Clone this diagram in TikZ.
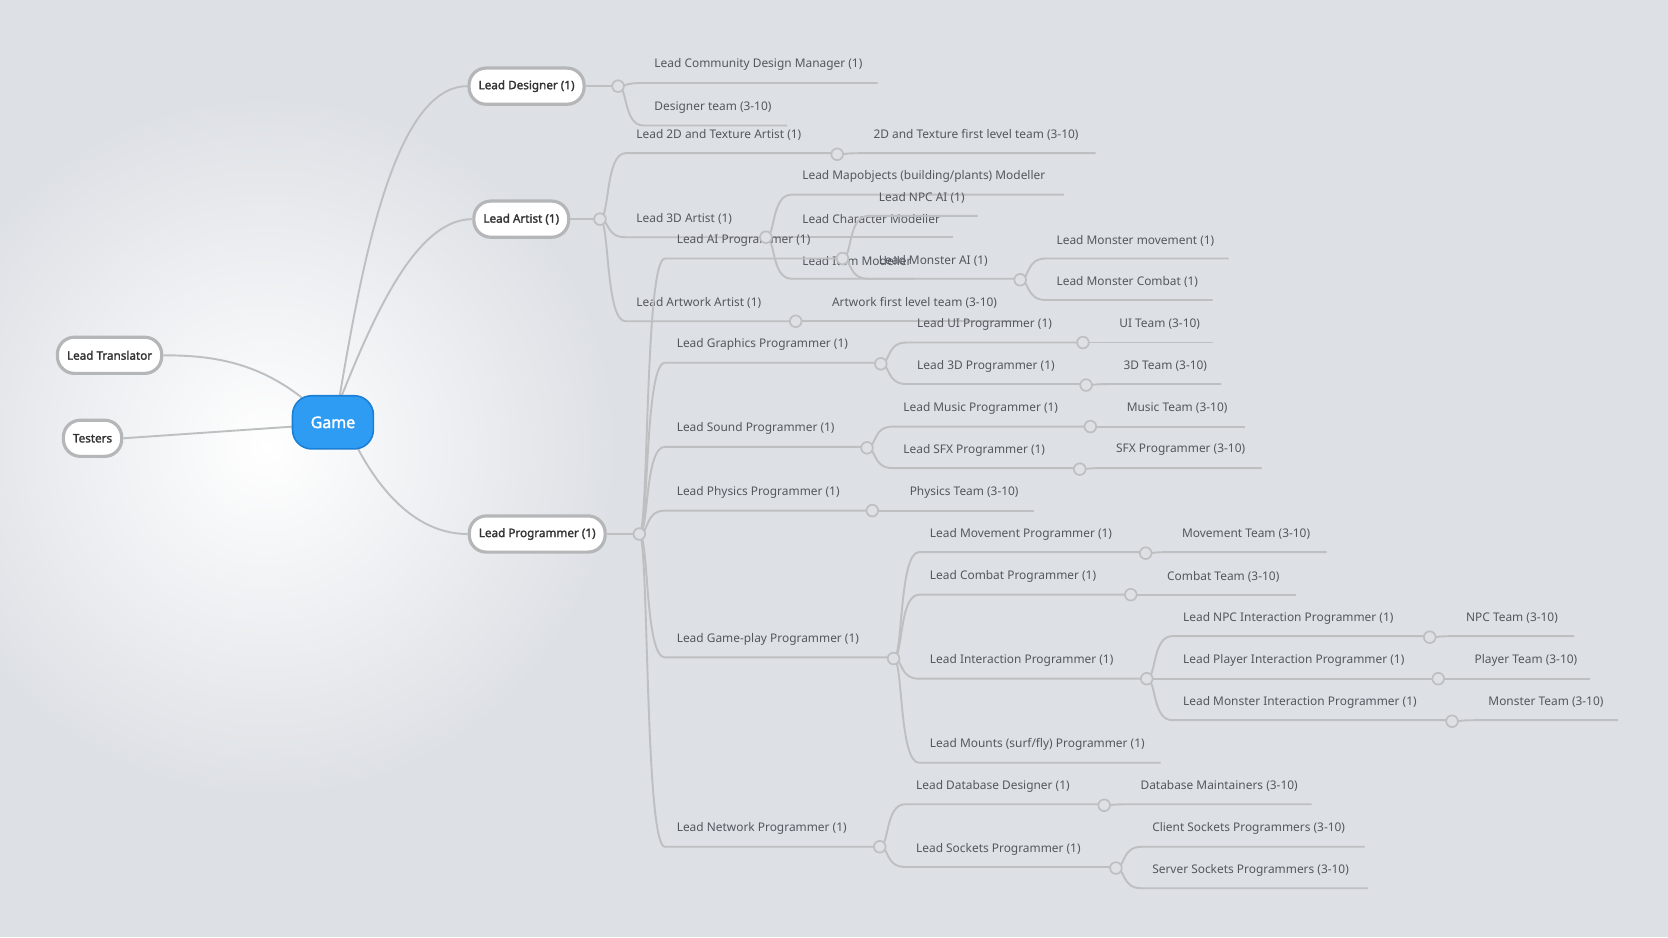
\documentclass[tikz,border=0pt]{standalone}
\usepackage{fontspec}
\setmainfont{Noto Sans}
\newfontfamily\bolds{Noto Sans}[FakeBold=1.8]
\usetikzlibrary{calc}
\definecolor{bg}{HTML}{DDE0E5}
\definecolor{ln}{HTML}{BEBFC1}
\definecolor{tx}{HTML}{54585E}
\definecolor{bx}{HTML}{B5B6B8}
\definecolor{gm}{HTML}{2F9CF4}
\definecolor{gmd}{HTML}{1C7FD6}
\tikzset{
 lnk/.style={draw=ln,line width=1.8pt},
 lbl/.style={anchor=west,inner sep=0pt,text=tx,font=\fontsize{11.2}{13}\selectfont},
 dotn/.style={circle,draw=ln,line width=1.6pt,fill=bg,minimum size=11pt,inner sep=0pt},
 boxn/.style={rounded corners=16pt,draw=bx,line width=3pt,fill=white,minimum height=34pt,inner xsep=9pt,text=black!80,font=\bolds\fontsize{11}{13}\selectfont},
}
% #1 parent coord, #2 text x, #3 text y, #4 end x, #5 text, #6 name
\newcommand\br[6]{%
 \draw[lnk] (#1) .. controls ($(#1)+(9,0)$) and ($(#1|-0,{#3+17})+(5,0)$) .. ($(#1|-0,{#3+17})+(24,0)$) -- (#4,{#3+17});
 \node[lbl] (#6) at (#2,#3) {#5};}
\begin{document}
\begin{tikzpicture}[x=1pt,y=-1pt]
\useasboundingbox (0,0) rectangle (1568,881);
\fill[bg] (0,0) rectangle (1568,881);
\shade[inner color=white,outer color=bg] (250,420) ellipse (330 and 330);
% circle coordinates
\foreach \n/\p in {cD/{581,81},cA/{564,206},c2D/{787,145},c3D/{720,223},cAw/{748,302},cP/{601,502},
 cAI/{792,243},cMA/{959,263},cG/{828,342},cUI/{1018,322},c3P/{1021,362},cS/{815,421},cMu/{1025,401},cSF/{1015,441},
 cPh/{820,480},cGp/{840,619},cMv/{1077,520},cCb/{1063,559},cIn/{1078,638},cNI/{1344,599},cPI/{1352,638},cMI/{1365,678},
 cN/{827,796},cDB/{1038,757},cSo/{1049,816}}
 \coordinate (\n) at (\p);
% main boxes
\node[boxn] (des) at (495,81) {Lead Designer (1)};
\node[boxn] (art) at (490,206) {Lead Artist (1)};
\node[boxn] (prg) at (505,502) {Lead Programmer (1)};
\node[boxn] (trn) at (103,334) {Lead Translator};
\node[boxn] (tst) at (87,412) {Testers};
\draw[lnk] (des.east) -- (cD); \draw[lnk] (art.east) -- (cA); \draw[lnk] (prg.east) -- (cP);
\coordinate (g1) at (318,380); \coordinate (g2) at (300,388); \coordinate (g3) at (290,400);
\draw[lnk] (g1) .. controls (340,250) and (370,81) .. (des.west);
\draw[lnk] (g1) .. controls (350,300) and (390,206) .. (art.west);
\draw[lnk] (g1) .. controls (340,440) and (380,502) .. (prg.west);
\draw[lnk] (g2) .. controls (250,340) and (200,334) .. (trn.east);
\draw[lnk] (g3) -- (tst.east);
\node[rounded corners=18pt,draw=gmd,line width=1.5pt,fill=gm,minimum width=76pt,minimum height=50pt,text=white,font=\bolds\fontsize{15}{17}\selectfont] (game) at (313,397) {Game};
% designer
\br{cD}{615}{61}{825}{Lead Community Design Manager (1)}{d1}
\br{cD}{615}{101}{740}{Designer team (3-10)}{d2}
% artist
\br{cA}{598}{127}{787}{Lead 2D and Texture Artist (1)}{a1}
\br{c2D}{821}{127}{1030}{2D and Texture first level team (3-10)}{a11}
\br{cA}{598}{206}{720}{Lead 3D Artist (1)}{a2}
\br{c3D}{754}{166}{1000}{Lead Mapobjects (building/plants) Modeller}{a21}
\br{c3D}{754}{206}{896}{Lead Character Modeller}{a22}
\br{c3D}{754}{245}{860}{Lead Item Modeller}{a23}
\br{cA}{598}{285}{748}{Lead Artwork Artist (1)}{a3}
\br{cAw}{782}{285}{955}{Artwork first level team (3-10)}{a31}
% programmer
\br{cP}{636}{226}{792}{Lead AI Programmer (1)}{p1}
\br{cAI}{826}{186}{919}{Lead NPC AI (1)}{p11}
\br{cAI}{826}{245}{959}{Lead Monster AI (1)}{p12}
\br{cMA}{993}{226}{1155}{Lead Monster movement (1)}{p121}
\br{cMA}{993}{265}{1140}{Lead Monster Combat (1)}{p122}
\br{cP}{636}{324}{828}{Lead Graphics Programmer (1)}{p2}
\br{cG}{862}{305}{1018}{Lead UI Programmer (1)}{p21}
\br{cUI}{1052}{305}{1140}{UI Team (3-10)}{p211}
\br{cG}{862}{344}{1021}{Lead 3D Programmer (1)}{p22}
\br{c3P}{1056}{344}{1148}{3D Team (3-10)}{p221}
\br{cP}{636}{403}{815}{Lead Sound Programmer (1)}{p3}
\br{cS}{849}{384}{1025}{Lead Music Programmer (1)}{p31}
\br{cMu}{1059}{384}{1170}{Music Team (3-10)}{p311}
\br{cS}{849}{423}{1015}{Lead SFX Programmer (1)}{p32}
\br{cSF}{1049}{423}{1186}{SFX Programmer (3-10)}{p321}
\br{cP}{636}{463}{820}{Lead Physics Programmer (1)}{p4}
\br{cPh}{855}{463}{972}{Physics Team (3-10)}{p41}
\br{cP}{636}{601}{840}{Lead Game-play Programmer (1)}{p5}
\br{cGp}{874}{502}{1077}{Lead Movement Programmer (1)}{p51}
\br{cMv}{1111}{502}{1247}{Movement Team (3-10)}{p511}
\br{cGp}{874}{542}{1063}{Lead Combat Programmer (1)}{p52}
\br{cCb}{1097}{542}{1218}{Combat Team (3-10)}{p521}
\br{cGp}{874}{621}{1078}{Lead Interaction Programmer (1)}{p53}
\br{cIn}{1112}{581}{1344}{Lead NPC Interaction Programmer (1)}{p531}
\br{cNI}{1378}{581}{1480}{NPC Team (3-10)}{p5311}
\br{cIn}{1112}{621}{1352}{Lead Player Interaction Programmer (1)}{p532}
\br{cPI}{1386}{621}{1495}{Player Team (3-10)}{p5321}
\br{cIn}{1112}{660}{1365}{Lead Monster Interaction Programmer (1)}{p533}
\br{cMI}{1399}{660}{1521}{Monster Team (3-10)}{p5331}
\br{cGp}{874}{700}{1091}{Lead Mounts (surf/fly) Programmer (1)}{p54}
\br{cP}{636}{779}{827}{Lead Network Programmer (1)}{p6}
\br{cN}{861}{739}{1038}{Lead Database Designer (1)}{p61}
\br{cDB}{1072}{739}{1233}{Database Maintainers (3-10)}{p611}
\br{cN}{861}{798}{1049}{Lead Sockets Programmer (1)}{p62}
\br{cSo}{1083}{779}{1283}{Client Sockets Programmers (3-10)}{p621}
\br{cSo}{1083}{818}{1286}{Server Sockets Programmers (3-10)}{p622}
% dots
\foreach \n in {cD,cA,c2D,c3D,cAw,cP,cAI,cMA,cG,cUI,c3P,cS,cMu,cSF,cPh,cGp,cMv,cCb,cIn,cNI,cPI,cMI,cN,cDB,cSo}
 \node[dotn] (d\n) at (\n) {};
\end{tikzpicture}
\end{document}
